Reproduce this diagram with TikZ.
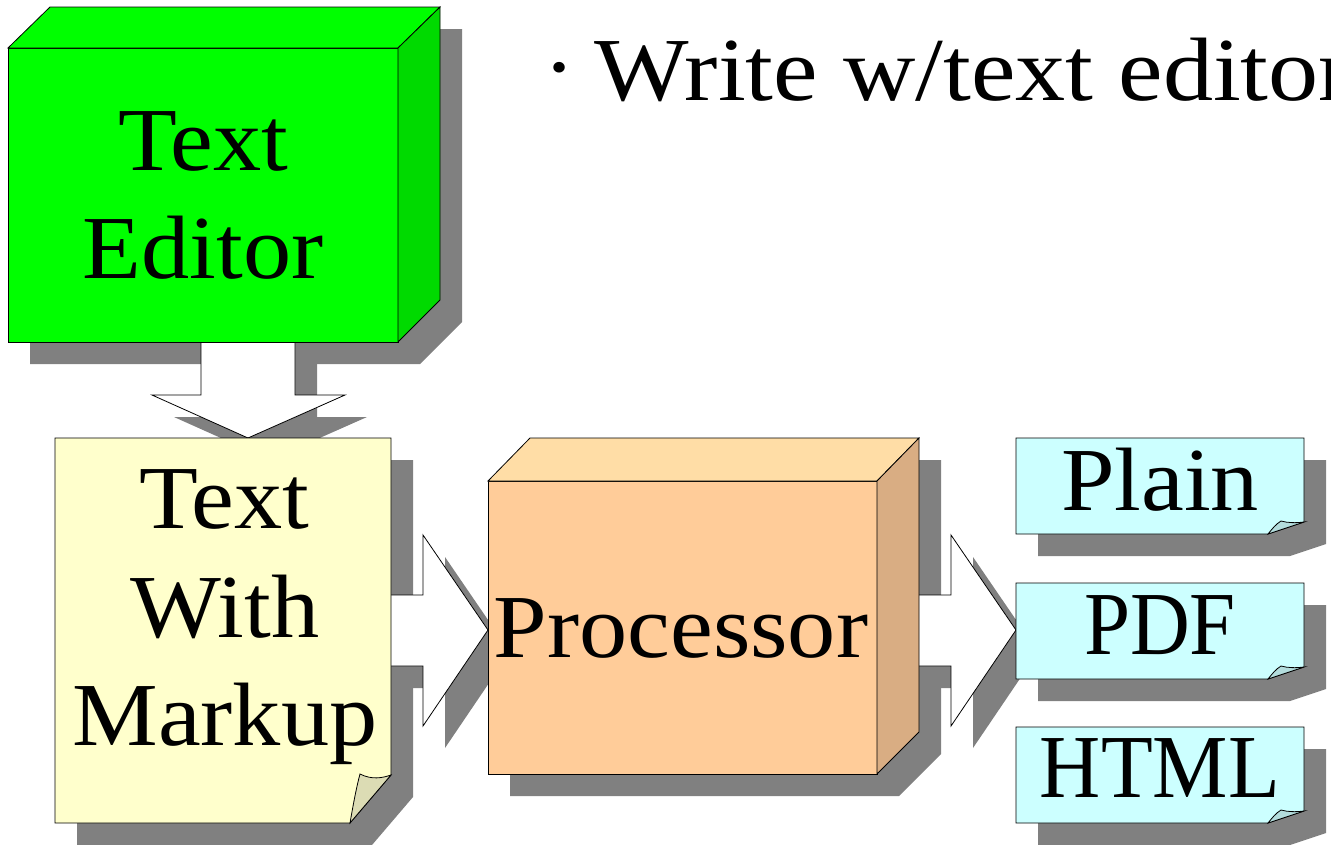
\documentclass[tikz,border=0pt]{standalone}
\usepackage{graphicx}
\usepackage{fontspec}
\setmainfont{Liberation Serif}[FakeStretch=1.07]
\usetikzlibrary{calc}
\definecolor{shd}{HTML}{808080}
\definecolor{grnF}{HTML}{00FF00}
\definecolor{grnR}{HTML}{00DA00}
\definecolor{ylw}{HTML}{FFFFCC}
\definecolor{ylwF}{HTML}{DCDCB4}
\definecolor{prcF}{HTML}{FFCC99}
\definecolor{prcT}{HTML}{FFDDA6}
\definecolor{prcR}{HTML}{D9AD83}
\definecolor{cyn}{HTML}{CCFFFF}
\definecolor{cynF}{HTML}{B3DDDD}
\newcommand\silTE{(8,48) -- (50,7) -- (440,7) -- (440,300) -- (398,342) -- (8,342) -- cycle}
\newcommand\silPR{(488,481) -- (530,438) -- (919,438) -- (919,732) -- (877,774) -- (488,774) -- cycle}
\newcommand\silTM{(55,438) -- (391,438) -- (391,775) -- (350,823) -- (55,823) -- cycle}
\newcommand\silOUT{(1016,438) -- (1304,438) -- (1304,522) -- (1268,534) -- (1016,534) -- cycle}
\newcommand\arrD{(201,342) -- (201,395) -- (152,395) -- (248,438) -- (345,395) -- (295,395) -- (295,342)}
\newcommand\arrA{(391,595) -- (423,595) -- (423,535) -- (488,630) -- (423,726) -- (423,666) -- (391,666)}
\newcommand\arrB{(919,595) -- (951,595) -- (951,535) -- (1016,630) -- (951,726) -- (951,666) -- (919,666)}
\tikzset{
  shadowfill/.style={fill=shd, draw=none},
  edge/.style={draw=black, line width=0.8pt, line join=miter},
  lbl/.style={font=\fontsize{90}{108}\selectfont, inner sep=0pt, anchor=base},
}
\begin{document}
\begin{tikzpicture}[x=1pt,y=-1pt]
\useasboundingbox (0,0) rectangle (1331,844);
\clip (0,0) rectangle (1331,844);
\fill[white] (0,0) rectangle (1331,844);
% shadows
\begin{scope}[shift={(22,22)}]
  \fill[shadowfill] \silTE;
  \fill[shadowfill] \silPR;
  \fill[shadowfill] \silTM;
  \fill[shadowfill] \arrD -- cycle;
  \fill[shadowfill] \arrA -- cycle;
  \fill[shadowfill] \arrB -- cycle;
  \fill[shadowfill] \silOUT;
  \begin{scope}[yshift=-145pt]\fill[shadowfill] \silOUT;\end{scope}
  \begin{scope}[yshift=-289pt]\fill[shadowfill] \silOUT;\end{scope}
\end{scope}
% connectors (block arrows)
\fill[white] \arrD -- cycle; \draw[edge] \arrD;
\fill[white] \arrA -- cycle; \draw[edge] \arrA;
\fill[white] \arrB -- cycle; \draw[edge] \arrB;
% Text Editor box
\filldraw[edge, fill=grnF] (8,48) rectangle (398,342);
\filldraw[edge, fill=grnF] (8,48) -- (50,7) -- (440,7) -- (398,48) -- cycle;
\filldraw[edge, fill=grnR] (398,48) -- (440,7) -- (440,300) -- (398,342) -- cycle;
\node[lbl] (te1) at (203,170) {Text};
\node[lbl] (te2) at (203,278) {Editor};
% Text with markup page
\filldraw[edge, fill=ylw] \silTM;
\filldraw[edge, fill=ylwF] (350,823) .. controls (354,800) and (357,785) .. (360,774) .. controls (372,780) and (382,778) .. (391,775) -- cycle;
\node[lbl] (tm1) at (224,528) {Text};
\node[lbl] (tm2) at (225,637) {With};
\node[lbl] (tm3) at (225,745) {Markup};
% Processor box
\filldraw[edge, fill=prcF] (488,481) rectangle (877,774);
\filldraw[edge, fill=prcT] (488,481) -- (530,438) -- (919,438) -- (877,481) -- cycle;
\filldraw[edge, fill=prcR] (877,481) -- (919,438) -- (919,732) -- (877,774) -- cycle;
\node[lbl] (pr) at (681,657) {Processor};
% output pages
\foreach \dy/\nm/\txt/\bl in {0/plain/Plain/510, 145/pdf/{\scalebox{0.86}[1]{PDF}}/654, 289/html/{\scalebox{0.88}[1]{HTML}}/797}{
  \begin{scope}[yshift=-\dy pt]
    \filldraw[edge, fill=cyn] \silOUT;
    \filldraw[edge, fill=cynF] (1268,534) .. controls (1272,529) and (1276,524) .. (1281,521) .. controls (1288,523) and (1296,523) .. (1304,522) -- cycle;
  \end{scope}
  \node[lbl] (\nm) at (1160,\bl) {\txt};
}
% bullet text
\node[lbl] (dot) at (560,97) {·};
\node[lbl, anchor=base west] (wr) at (594,100) {\scalebox{1.04}[1]{Write w/text editor}};
\end{tikzpicture}
\end{document}
